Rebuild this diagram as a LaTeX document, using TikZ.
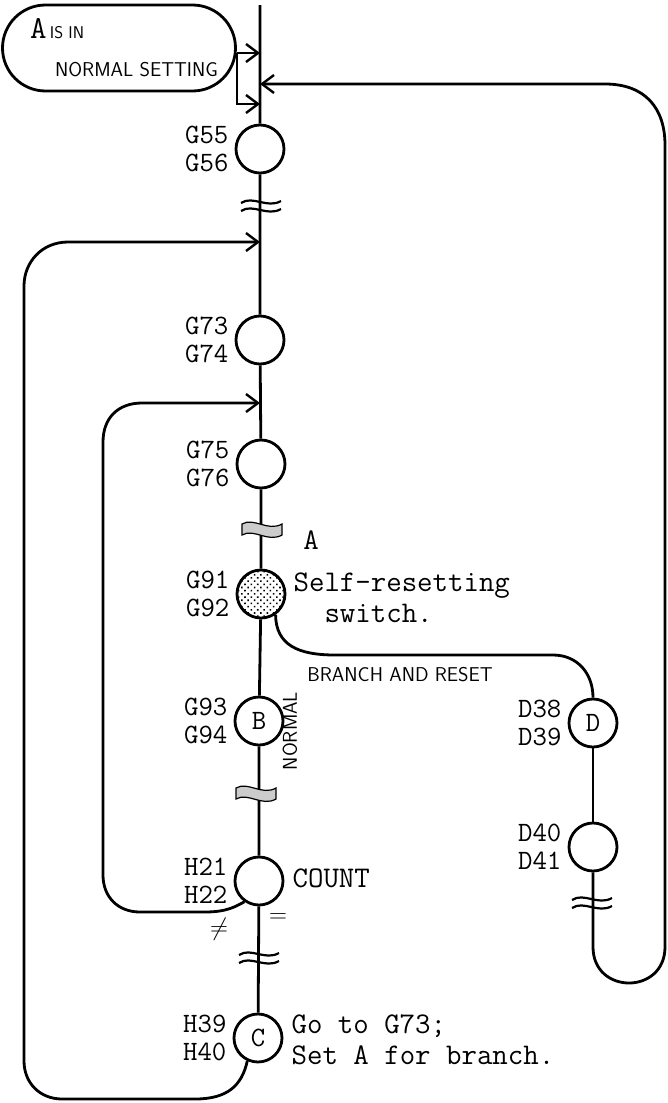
\documentclass[tikz,border=0pt]{standalone}
\usepackage{tikz}
\usetikzlibrary{arrows.meta,positioning,patterns.meta}

\begin{document}
\begin{tikzpicture}[x=1pt,y=-1pt,>={Straight Barb[length=12pt,width=18pt,line width=2.4pt]},
    every node/.style={align=center},
    flow/.style={line width=2.8pt},
    stn/.style={draw,circle,line width=2.8pt,minimum size=48pt,inner sep=0pt,font=\fontsize{28}{28}\selectfont\ttfamily},
    tag/.style={font=\fontsize{28}{28}\selectfont\ttfamily,align=right,inner sep=0pt},
    note/.style={font=\fontsize{30}{31}\selectfont\ttfamily,align=left,inner sep=0pt},
    caps/.style={font=\fontsize{20}{20}\selectfont\sffamily,inner sep=0pt},
    brk/.pic={\draw[line width=2.2pt] (-20,-3) .. controls (-8,-11) and (6,3) .. (20,-5);
              \draw[line width=2.2pt] (-20,5) .. controls (-8,-3) and (6,11) .. (20,3);},
    sbrk/.pic={\draw[line width=1.2pt,fill=gray!40] (-20,-6) .. controls (-8,-13) and (6,2) .. (20,-6)
              -- (20,5) .. controls (6,13) and (-8,-2) .. (-20,5) -- cycle;}]
    \useasboundingbox (0,0) rectangle (668,1103);
    \node[draw,line width=2.8pt,rounded corners=43pt,minimum width=233pt,minimum height=86pt,inner sep=0pt,
          font=\fontsize{20}{38}\selectfont\sffamily,align=left] (start) at (119,48)
          {\hspace*{10pt}{\fontsize{32}{38}\selectfont\ttfamily A}\,{\fontsize{17}{38}\selectfont IS IN}\\\hspace*{35pt}NORMAL SETTING};
    \coordinate (top) at (260,5);
    \coordinate (o1) at (237,53);
    \coordinate (e1) at (260,53);
    \coordinate (e2) at (260,84);
    \coordinate (e3) at (260,104);
    \coordinate (e4) at (260,242);
    \coordinate (e5) at (260,403);
    \node[stn] (g55) at (260,149) {};
    \node[stn] (g73) at (260,340) {};
    \node[stn] (g75) at (261,464) {};
    \node[stn,pattern={Dots[radius=1.1pt,distance=4.5pt,angle=45]}] (g91) at (261,594) {};
    \node[stn] (b) at (259,721) {B};
    \node[stn] (h21) at (259,881) {};
    \node[stn] (c) at (258,1038) {C};
    \node[stn] (d) at (593,723) {D};
    \node[stn] (d40) at (593,847) {};
    \node[tag,left=6pt of g55] (g55t) {G55\\G56};
    \node[tag,left=6pt of g73] (g73t) {G73\\G74};
    \node[tag,left=6pt of g75] (g75t) {G75\\G76};
    \node[tag,left=6pt of g91] (g91t) {G91\\G92};
    \node[tag,left=6pt of b] (bt) {G93\\G94};
    \node[tag,left=6pt of h21] (h21t) {H21\\H22};
    \node[tag,left=6pt of c] (ct) {H39\\H40};
    \node[tag,left=6pt of d] (dt) {D38\\D39};
    \node[tag,left=6pt of d40] (d40t) {D40\\D41};
    \node[note,right=7pt of g91,yshift=-4pt] (swnote) {Self-resetting\\\phantom{Se}switch.};
    \node[note,right=8pt of h21,yshift=3pt] (count) {COUNT};
    \node[note,right=8pt of c,yshift=-2pt] (cnote) {Go to G73;\\Set A for branch.};
    \node[note] (alab) at (311,540) {A};
    \node[caps] (brlab) at (400,675) {BRANCH AND RESET};
    \node[caps,rotate=90] (nlab) at (290,731) {NORMAL};
    \node[font=\fontsize{26}{26}\selectfont] (ne) at (219,929) {$\neq$};
    \node[font=\fontsize{24}{24}\selectfont] (eq) at (278,918) {$=$};
    \draw[flow] (top) -- (g55) -- (g73) -- (g75) -- (g91) -- (b) -- (h21) -- (c);
    \draw[flow] (start.east |- o1) -- (o1);
    \draw[flow,->] (o1) -- (e1);
    \draw[flow,->] (o1) |- (e3);
    \draw[flow,->] (c.245) .. controls (242,1085) and (228,1099) .. (195,1099) -- (62,1099)
        .. controls (40,1099) and (24,1083) .. (24,1061) -- (24,286)
        .. controls (24,262) and (42,242) .. (68,242) -- (e4);
    \draw[flow,->] (h21.235) .. controls (236,906) and (228,912) .. (205,912) -- (140,912)
        .. controls (118,912) and (103,897) .. (103,875) -- (103,442)
        .. controls (103,418) and (118,403) .. (142,403) -- (e5);
    \draw[flow] (g91.-55) .. controls (276,645) and (298,655) .. (335,655) -- (553,655)
        .. controls (577,655) and (593,673) .. (d.north);
    \draw[flow] (d) -- (d40);
    \draw[flow,->] (d40) -- (593,947) .. controls (593,995) and (665,995) .. (665,947)
        -- (665,145) .. controls (665,108) and (645,84) .. (605,84) -- (e2);
    \pic at (261,206) {brk};
    \pic at (262,530) {sbrk};
    \pic at (256,794) {sbrk};
    \pic at (259,958) {brk};
    \pic at (592,903) {brk};
\end{tikzpicture}
\end{document}
